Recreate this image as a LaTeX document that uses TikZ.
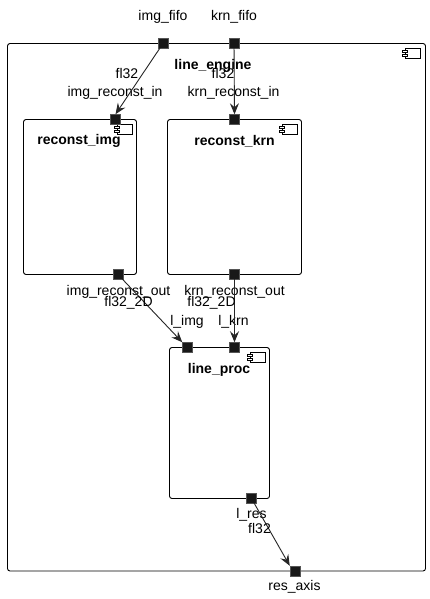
\documentclass[tikz,border=0pt]{standalone}
\usepackage{fontspec}
\setmainfont{Liberation Sans}
\usetikzlibrary{arrows.meta}
\definecolor{portfill}{HTML}{181818}
\definecolor{portedge}{HTML}{555555}
\tikzset{
  comp/.style={draw=black, line width=0.9pt, rounded corners=2.5pt, fill=white},
  port/.style={rectangle, fill=portfill, draw=portedge, line width=0.5pt, minimum size=10pt, inner sep=0pt},
  lbl/.style={inner sep=0pt, font=\fontsize{14}{16}\selectfont},
  ttl/.style={inner sep=0pt, font=\fontsize{14}{16}\selectfont\bfseries},
  conn/.style={draw=black!85, line width=0.9pt, -{Stealth[length=11pt,width=9pt,inset=4pt]}},
  pics/compicon/.style={code={
    \draw[line width=0.7pt, fill=white] (0,0) rectangle (15,10);
    \draw[line width=0.6pt, fill=white] (-2.5,2) rectangle (2,4);
    \draw[line width=0.6pt, fill=white] (-2.5,6) rectangle (2,8);
  }}
}
\begin{document}
\begin{tikzpicture}[x=1pt,y=-1pt]
\useasboundingbox (0,0) rectangle (430,599);
% outer component
\draw[comp] (7.5,43.5) rectangle (425.5,571);
\pic at (405,48) {compicon};
\node[ttl] (tle) at (213,66) {line\_engine};
% inner components
\draw[comp] (23.5,119.5) rectangle (136.5,274.5);
\pic at (117,124) {compicon};
\node[ttl] (tri) at (79,141) {reconst\_img};
\draw[comp] (167.5,119.5) rectangle (301.5,274.5);
\pic at (282,124) {compicon};
\node[ttl] (trk) at (234.5,141) {reconst\_krn};
\draw[comp] (169.5,347.5) rectangle (269.5,498.5);
\pic at (250,352) {compicon};
\node[ttl] (tlp) at (219,370) {line\_proc};
% ports
\node[port] (imgfifo) at (163,43.5) {};
\node[port] (krnfifo) at (234,43.5) {};
\node[port] (imgin) at (115.5,119.5) {};
\node[port] (krnin) at (234.5,119.5) {};
\node[port] (imgout) at (118,274.5) {};
\node[port] (krnout) at (234.5,274.5) {};
\node[port] (limg) at (187.5,347.5) {};
\node[port] (lkrn) at (234.5,347.5) {};
\node[port] (lres) at (251.5,498.5) {};
\node[port] (resaxis) at (295,571) {};
% port labels
\node[lbl] (limgfifo) at (163,17) {img\_fifo};
\node[lbl] (lkrnfifo) at (234,17) {krn\_fifo};
\node[lbl] (limgin) at (115,93) {img\_reconst\_in};
\node[lbl] (lkrnin) at (233.5,93) {krn\_reconst\_in};
\node[lbl] (limgout) at (118.5,292) {img\_reconst\_out};
\node[lbl] (lkrnout) at (234.5,292) {krn\_reconst\_out};
\node[lbl] (llimg) at (187,321.5) {l\_img};
\node[lbl] (llkrn) at (233.5,321.5) {l\_krn};
\node[lbl] (llres) at (251.5,515) {l\_res};
\node[lbl] (lresaxis) at (294.5,587) {res\_axis};
% connectors
\draw[conn] (imgfifo.center) -- (imgin.north);
\node[lbl] (f1) at (127,73) {fl32};
\draw[conn] (krnfifo.center) -- (krnin.north);
\node[lbl] (f2) at (223,73) {fl32};
\draw[conn] (imgout.center) -- (limg.north west);
\node[lbl] (f3) at (128.5,303) {fl32\_2D};
\draw[conn] (krnout.center) -- (lkrn.north);
\node[lbl] (f4) at (211.5,303) {fl32\_2D};
\draw[conn] (lres.center) -- (resaxis.north west);
\node[lbl] (f5) at (259.5,528) {fl32};
% redraw ports on top
\foreach \p in {imgfifo,krnfifo,imgin,krnin,imgout,krnout,limg,lkrn,lres,resaxis}
  \fill[portfill] ([shift={(-4.5,-4.5)}]\p.center) rectangle ([shift={(4.5,4.5)}]\p.center);
\end{tikzpicture}
\end{document}
